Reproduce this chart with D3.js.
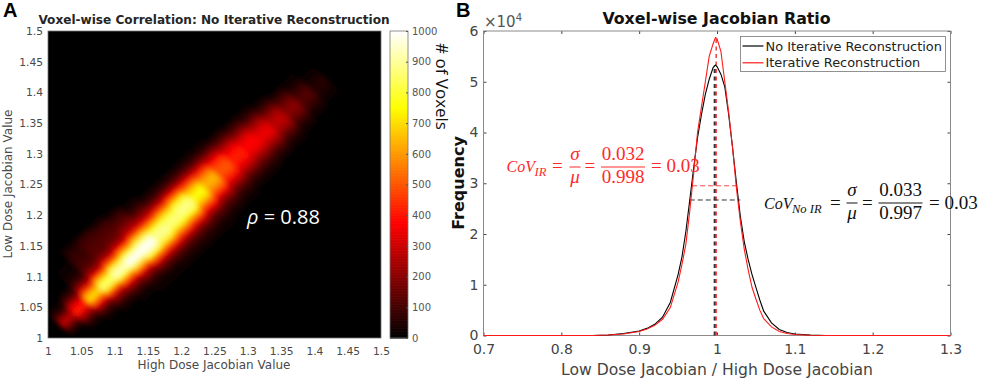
<!doctype html>
<html>
<head>
<meta charset="utf-8" />
<title>Voxel-wise Jacobian</title>
<script type="text/javascript" src="https://cdn.jsdelivr.net/npm/d3@7"></script>
<style>
body { margin: 0; background: #fff; }
svg { display: block; }
text { font-family: "DejaVu Sans", sans-serif; }
.eq text { font-family: "Liberation Serif", serif; font-size: 19px; }
</style>
</head>
<body>
<svg id="fig" width="989" height="381"></svg>
<script type="text/javascript">
// panel A: 2d histogram read by eye, in strips along the diagonal.
// ridgePos = (x + y) / 2, ridgeOffset = y - x
var ridgePos = [1.03,1.05,1.07,1.09,1.11,1.13,1.15,1.17,1.19,1.21,1.23,1.25,1.27,1.29,1.31,1.33,1.35,1.37,1.39,1.41];
var ridgeOffset = [-0.1,-0.09,-0.08,-0.07,-0.06,-0.05,-0.04,-0.03,-0.02,-0.01,0,0.01,0.02,0.03,0.04,0.05,0.06,0.07,0.08,0.09,0.1,0.11,0.12];
var voxelCounts = [
  [0,0,0,0,0,0,0,20,70,170,280,220,110,40,10,0,0,0,0,0,0,0,0],
  [0,0,0,0,0,10,40,110,210,330,420,380,270,150,70,25,5,0,0,0,0,0,0],
  [0,0,0,0,10,40,100,200,360,550,700,640,470,300,170,90,50,30,15,10,0,0,0],
  [0,0,5,15,40,90,170,290,480,710,860,800,630,420,260,170,120,100,90,80,70,50,20],
  [0,5,10,25,60,120,210,360,570,790,940,890,720,510,330,210,150,130,120,110,100,70,20],
  [5,10,20,40,80,150,260,430,650,860,1000,950,790,590,390,250,170,140,125,110,90,50,10],
  [5,15,25,50,110,190,340,530,740,920,1000,970,840,660,460,310,220,170,130,100,60,20,0],
  [5,15,30,60,110,190,330,500,700,840,900,880,780,630,450,300,200,130,80,40,15,0,0],
  [5,15,30,60,110,180,310,470,640,790,870,860,790,660,490,320,190,100,50,20,5,0,0],
  [5,15,30,60,100,170,290,440,610,770,870,885,830,720,540,360,210,110,50,20,5,0,0],
  [5,10,25,50,90,140,240,360,500,640,730,760,720,630,490,340,200,110,50,20,5,0,0],
  [0,5,15,35,70,115,190,290,410,520,600,640,630,560,450,320,190,100,50,15,0,0,0],
  [0,0,10,25,50,90,150,230,320,410,470,500,490,460,380,280,180,95,45,10,0,0,0],
  [0,0,5,15,35,70,120,190,270,340,400,420,410,380,310,230,150,80,30,5,0,0,0],
  [0,0,5,10,30,60,110,170,240,310,360,380,370,340,270,190,120,60,20,0,0,0,0],
  [0,0,0,5,20,50,90,150,220,290,340,350,330,280,220,150,85,40,10,0,0,0,0],
  [0,0,0,0,10,30,60,110,170,230,270,280,260,220,160,100,50,15,0,0,0,0,0],
  [0,0,0,0,5,15,35,65,110,155,190,200,180,150,100,60,25,5,0,0,0,0,0],
  [0,0,0,0,0,5,15,35,60,90,115,120,105,80,50,25,10,0,0,0,0,0,0],
  [0,0,0,0,0,0,5,12,25,40,50,50,40,25,12,5,0,0,0,0,0,0,0]
];
var corrTicks = [1,1.05,1.1,1.15,1.2,1.25,1.3,1.35,1.4,1.45,1.5];
var colorTicks = [0,100,200,300,400,500,600,700,800,900,1000];

// panel B: frequency curves in units of 10^4
var ratioX = [0.7,0.84,0.86,0.88,0.9,0.91,0.92,0.93,0.94,0.95,0.955,0.96,0.965,0.97,0.975,0.98,0.985,0.99,0.995,0.998,1,1.005,1.01,1.015,1.02,1.025,1.03,1.035,1.04,1.045,1.05,1.055,1.06,1.07,1.08,1.09,1.1,1.12,1.14,1.3];
var noIrFreq = [null,0,0.01,0.04,0.09,0.14,0.22,0.36,0.65,1.2,1.55,2.05,2.67,3.3,3.9,4.35,4.75,5.05,5.28,5.33,5.3,5.15,4.9,4.35,3.7,3,2.35,1.85,1.5,1.2,0.95,0.7,0.48,0.25,0.12,0.06,0.03,0.01,0,null];
var irFreq = [0,0,0.01,0.03,0.08,0.13,0.2,0.32,0.55,1.05,1.4,1.8,2.45,3.2,4,4.5,5,5.5,5.75,5.87,5.85,5.6,5,4.4,3.7,2.9,2.25,1.7,1.3,0.95,0.72,0.5,0.33,0.17,0.08,0.04,0.02,0.005,0,0];
var ratioTicks = [0.7,0.8,0.9,1,1.1,1.2,1.3];
var freqTicks = [0,1,2,3,4,5,6];
var legendNames = ["No Iterative Reconstruction", "Iterative Reconstruction"];
var seriesColors = ["#000000", "#ff1a1a"];
var meanX = [0.997, 0.999];
var meanTop = [5.33, 5.87];
var halfY = [2.67, 2.95];
var halfSpan = [[0.965, 1.03], [0.968, 1.026]];

var svg = d3.select("#fig");

function label(x, y, str, size, color, anchor, weight, rot) {
    var t = svg.append("text")
        .attr("transform", "translate(" + x + "," + y + ")" + (rot ? " rotate(" + rot + ")" : ""))
        .attr("font-size", size)
        .attr("fill", color)
        .attr("text-anchor", anchor || "middle")
        .text(str);
    if (weight) t.attr("font-weight", weight);
    return t;
}

// MATLAB "hot"
var hot = d3.scaleLinear()
    .domain([0, 375, 750, 1000])
    .range(["#000000", "#ff0000", "#ffff00", "#ffffff"])
    .clamp(true);

// ---- panel A ----
var ax = d3.scaleLinear().domain([1, 1.5]).range([48, 381]);
var ay = d3.scaleLinear().domain([1, 1.5]).range([338, 31]);

var defs = svg.append("defs");
defs.append("clipPath").attr("id", "heat-clip").append("rect")
    .attr("x", ax(1)).attr("y", ay(1.5))
    .attr("width", ax(1.5) - ax(1)).attr("height", ay(1) - ay(1.5));
defs.append("filter").attr("id", "soft")
    .attr("x", "-10%").attr("y", "-10%").attr("width", "120%").attr("height", "120%")
    .append("feGaussianBlur").attr("stdDeviation", 2.5);

var heat = svg.append("g").attr("clip-path", "url(#heat-clip)");
heat.append("rect")
    .attr("x", ax(1)).attr("y", ay(1.5))
    .attr("width", ax(1.5) - ax(1)).attr("height", ay(1) - ay(1.5))
    .attr("fill", "#000");

var cells = [];
ridgePos.forEach(function(s, r) {
    ridgeOffset.forEach(function(d, c) {
        if (voxelCounts[r][c] > 0) cells.push({s: s, d: d, v: voxelCounts[r][c]});
    });
});

// strip cell in (pos, offset) space, mapped back to x/y
function cellPath(c) {
    var corners = [[-0.0105, -0.0055], [0.0105, -0.0055], [0.0105, 0.0055], [-0.0105, 0.0055]];
    return "M" + corners.map(function(k) {
        var s = c.s + k[0], d = c.d + k[1];
        return ax(s - d / 2) + "," + ay(s + d / 2);
    }).join("L") + "Z";
}

heat.append("g").attr("filter", "url(#soft)")
    .selectAll("path").data(cells).enter().append("path")
    .attr("d", cellPath)
    .attr("fill", function(d) { return hot(d.v); });

svg.append("rect")
    .attr("x", ax(1)).attr("y", ay(1.5))
    .attr("width", ax(1.5) - ax(1)).attr("height", ay(1) - ay(1.5))
    .attr("fill", "none").attr("stroke", "#777").attr("stroke-width", 0.8);

function styleAxis(g, color, size) {
    g.select(".domain").remove();
    g.selectAll("line").attr("stroke", color);
    g.selectAll("text").attr("fill", color).attr("font-size", size)
        .attr("font-family", '"DejaVu Sans", sans-serif');
}

svg.append("g").attr("transform", "translate(0," + ay(1) + ")")
    .call(d3.axisBottom(ax).tickValues(corrTicks).tickFormat(d3.format("")).tickSize(0).tickPadding(9))
    .call(styleAxis, "#4a4a4a", 10.7);
svg.append("g").attr("transform", "translate(" + ax(1) + ",0)")
    .call(d3.axisLeft(ay).tickValues(corrTicks).tickFormat(d3.format("")).tickSize(0).tickPadding(5))
    .call(styleAxis, "#4a4a4a", 10.7);

label(214, 24, "Voxel-wise Correlation: No Iterative Reconstruction", 12.1, "#262626", "middle", "bold");
label(214, 369, "High Dose Jacobian Value", 12, "#4a4a4a");
label(12, 184, "Low Dose Jacobian Value", 12, "#4a4a4a", "middle", null, -90);
label(3, 17, "A", 20, "#000", "start", "bold").style("font-family", '"Liberation Sans", sans-serif');

var rho = label(247, 224, "", 20, "#fff", "start").style("font-family", '"Open Sans", sans-serif');
rho.append("tspan").attr("font-style", "italic").text("\u03c1");
rho.append("tspan").text(" = 0.88");

// colorbar
var cy = d3.scaleLinear().domain([0, 1000]).range([338, 31]);
var cbar = svg.append("g");
cbar.selectAll("rect").data(d3.range(0, 1000, 2)).enter().append("rect")
    .attr("x", 390).attr("width", 18)
    .attr("y", function(d) { return cy(d + 2); })
    .attr("height", cy(0) - cy(2) + 0.6)
    .attr("fill", function(d) { return hot(d); });
cbar.append("rect").attr("x", 390).attr("y", 31).attr("width", 18).attr("height", 307)
    .attr("fill", "none").attr("stroke", "#777").attr("stroke-width", 0.8);
svg.append("g").attr("transform", "translate(408,0)")
    .call(d3.axisRight(cy).tickValues(colorTicks).tickFormat(d3.format("d")).tickSize(-2).tickPadding(4))
    .call(styleAxis, "#555", 10);
label(436, 86.5, "# of Voxels", 17, "#111", "middle", null, 90).style("font-family", '"Open Sans", sans-serif');

// ---- panel B ----
var bx = d3.scaleLinear().domain([0.7, 1.3]).range([483.5, 950.5]);
var by = d3.scaleLinear().domain([0, 6]).range([335.5, 31]);

svg.append("g").attr("transform", "translate(0,335.5)")
    .call(d3.axisBottom(bx).tickValues(ratioTicks).tickFormat(d3.format("")).tickSize(-3).tickPadding(9))
    .call(styleAxis, "#444", 14);
svg.append("g").attr("transform", "translate(483.5,0)")
    .call(d3.axisLeft(by).tickValues(freqTicks).tickFormat(d3.format("d")).tickSize(-3).tickPadding(5))
    .call(styleAxis, "#444", 14);
svg.append("g").attr("transform", "translate(0,31)")
    .call(d3.axisTop(bx).tickValues(ratioTicks).tickFormat("").tickSize(-3))
    .call(styleAxis, "#444", 14);
svg.append("g").attr("transform", "translate(950.5,0)")
    .call(d3.axisRight(by).tickValues(freqTicks).tickFormat("").tickSize(-3))
    .call(styleAxis, "#444", 14);
svg.append("rect")
    .attr("x", bx(0.7)).attr("y", by(6))
    .attr("width", bx(1.3) - bx(0.7)).attr("height", by(0) - by(6))
    .attr("fill", "none").attr("stroke", "#8a8a8a").attr("stroke-width", 1);

// dashed guides
[1, 0].forEach(function(i) {
    svg.append("line")
        .attr("x1", bx(meanX[i])).attr("x2", bx(meanX[i]))
        .attr("y1", by(0)).attr("y2", by(meanTop[i]))
        .attr("stroke", i ? "#f04a4a" : "#333")
        .attr("stroke-width", i ? 1.6 : 2)
        .attr("stroke-dasharray", "4,3.5");
    svg.append("line")
        .attr("x1", bx(halfSpan[i][0])).attr("x2", bx(halfSpan[i][1]))
        .attr("y1", by(halfY[i])).attr("y2", by(halfY[i]))
        .attr("stroke", i ? "#f04a4a" : "#333")
        .attr("stroke-width", 1)
        .attr("stroke-dasharray", "5,3");
});

var curve = d3.line()
    .defined(function(d) { return d[1] !== null; })
    .x(function(d) { return bx(d[0]); })
    .y(function(d) { return by(d[1]); });

[noIrFreq, irFreq].forEach(function(vals, i) {
    svg.append("path")
        .datum(ratioX.map(function(x, k) { return [x, vals[k]]; }))
        .attr("d", curve)
        .attr("fill", "none")
        .attr("stroke", seriesColors[i])
        .attr("stroke-width", 1.1);
});

// legend
svg.append("rect")
    .attr("x", 740.5).attr("y", 36.5).attr("width", 205).attr("height", 35)
    .attr("fill", "#fff").attr("stroke", "#777").attr("stroke-width", 0.8);
legendNames.forEach(function(name, i) {
    var ly = 46 + i * 16.8;
    svg.append("line").attr("x1", 742.5).attr("x2", 763.5)
        .attr("y1", ly).attr("y2", ly)
        .attr("stroke", seriesColors[i]).attr("stroke-width", 1.2);
    label(765.5, ly + 4.5, name, 12.9, "#222", "start");
});

label(716.5, 24, "Voxel-wise Jacobian Ratio", 15.8, "#111", "middle", "bold");
label(717, 375, "Low Dose Jacobian / High Dose Jacobian", 15.6, "#444");
label(464, 183, "Frequency", 16, "#111", "middle", "bold", -90);
label(456, 17, "B", 20, "#000", "start", "bold").style("font-family", '"Liberation Sans", sans-serif');
var power = label(484, 27, "\u00d710", 15, "#555", "start");
power.append("tspan").attr("font-size", 10).attr("dy", -6).text("4");

// CoV equations
function equation(color, o) {
    var g = svg.append("g").attr("class", "eq").attr("fill", color);
    function put(x, y, str, anchor, italic, size) {
        var t = g.append("text").attr("x", x).attr("y", y).attr("text-anchor", anchor || "start").text(str);
        if (italic) t.attr("font-style", "italic");
        if (size) t.style("font-size", size + "px");
        return t;
    }
    put(o.x, o.base, "CoV", "start", true, 16);
    put(o.x + 28, o.base + 4, o.sub, "start", true, 12.5);
    put(o.eq1, o.base, "=");
    put(o.sym, o.num, "\u03c3", "middle", true);
    put(o.sym, o.den, "\u03bc", "middle", true);
    put(o.eq2, o.base, "=");
    put(o.frac, o.num, o.top, "middle");
    put(o.frac, o.den, o.bottom, "middle");
    put(o.end, o.base, "= 0.03");
    g.append("line").attr("x1", o.sym - 5.5).attr("x2", o.sym + 5.5).attr("y1", o.bar).attr("y2", o.bar)
        .attr("stroke", color).attr("stroke-width", 1);
    g.append("line").attr("x1", o.frac - 22).attr("x2", o.frac + 22).attr("y1", o.bar).attr("y2", o.bar)
        .attr("stroke", color).attr("stroke-width", 1);
}
equation("#ff2a2a", {x: 506.5, base: 172, sub: "IR", eq1: 552, sym: 575, eq2: 584.5, frac: 623, end: 651, num: 160, den: 183, bar: 167, top: "0.032", bottom: "0.998"});
equation("#111111", {x: 764, base: 209, sub: "No IR", eq1: 830, sym: 852, eq2: 862, frac: 900.5, end: 929, num: 196, den: 219, bar: 203, top: "0.033", bottom: "0.997"});
</script>
</body>
</html>
